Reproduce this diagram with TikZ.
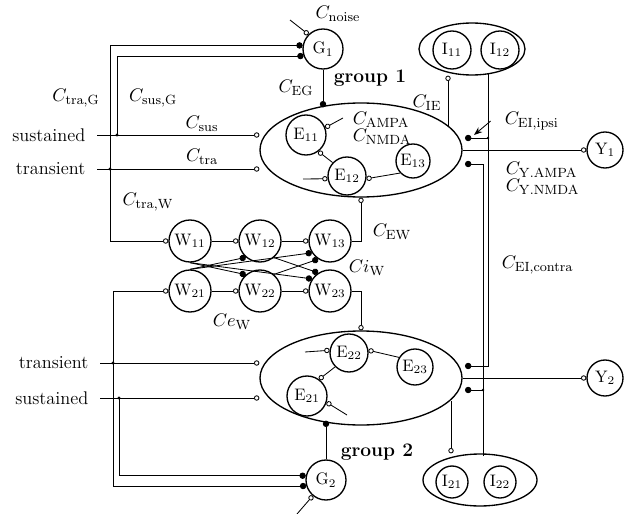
\documentclass[tikz,border=0pt]{standalone}
\usetikzlibrary{shapes.geometric, arrows.meta, positioning, calc}

\begin{document}
\begin{tikzpicture}[
    x=0.6pt, y=-0.6pt,
    every node/.style={font=\fontsize{11}{13}\selectfont},
    neuron/.style={circle, draw, line width=0.8pt, inner sep=0pt, minimum size=22.8pt, font=\fontsize{10}{12}\selectfont},
    group/.style={ellipse, draw, line width=0.8pt, inner sep=0pt, minimum width=121.2pt, minimum height=56.4pt},
    exc/.style={-{Circle[open, length=3.2pt]}, line width=0.5pt},
    inh/.style={-{Circle[length=3.8pt]}, line width=0.5pt},
    pointer/.style={-{Stealth[length=5pt]}, line width=0.5pt},
    inlabel/.style={anchor=east, inner sep=0pt, outer xsep=7pt},
    grouplabel/.style={font=\fontsize{11.5}{13}\selectfont\bfseries}
]
\useasboundingbox (0,0) rectangle (626,514);

% group 1
\node[group] (grp1) at (361,150) {};
\node[neuron, minimum size=24pt] (E11) at (306,135) {E$_{11}$};
\node[neuron] (E12) at (347,176) {E$_{12}$};
\node[neuron, minimum size=20.4pt] (E13) at (413,161) {E$_{13}$};
\node[neuron, minimum size=24pt] (G1) at (323,49) {G$_1$};
\node[group, minimum width=63.6pt, minimum height=31.2pt] (Iv1) at (472,49) {};
\node[neuron] (I11) at (452,50) {I$_{11}$};
\node[neuron] (I12) at (500,50) {I$_{12}$};
\node[neuron, minimum size=21.6pt] (Y1) at (605,150) {Y$_1$};

% group 2
\node[group] (grp2) at (361,378) {};
\node[neuron, minimum size=24pt] (E21) at (307,396) {E$_{21}$};
\node[neuron] (E22) at (349,353) {E$_{22}$};
\node[neuron, minimum size=21.6pt] (E23) at (415,367) {E$_{23}$};
\node[neuron, minimum size=24pt] (G2) at (326,480) {G$_2$};
\node[group, minimum width=68.4pt, minimum height=31.2pt] (Iv2) at (480,480) {};
\node[neuron, minimum size=19.2pt] (I21) at (452,482) {I$_{21}$};
\node[neuron, minimum size=19.2pt] (I22) at (500,482) {I$_{22}$};
\node[neuron, minimum size=21.6pt] (Y2) at (605,378) {Y$_2$};

% W cells
\foreach \i/\x in {1/190, 2/260, 3/330} {
  \node[neuron, minimum size=25.2pt] (W1\i) at (\x,241) {W$_{1\i}$};
  \node[neuron, minimum size=25.2pt] (W2\i) at (\x,291) {W$_{2\i}$};
}

% inputs
\node[inlabel] (sus1) at (97,135) {sustained};
\node[inlabel] (tra1) at (97,169) {transient};
\node[inlabel] (tra2) at (100,363) {transient};
\node[inlabel] (sus2) at (100,398) {sustained};

% labels
\node (cnoise) at (338,14) {$C_{\mathrm{noise}}$};
\node (ctraG) at (76,98) {$C_{\mathrm{tra,G}}$};
\node (csusG) at (153,98) {$C_{\mathrm{sus,G}}$};
\node (csus) at (202,124) {$C_{\mathrm{sus}}$};
\node (ctra) at (202,157) {$C_{\mathrm{tra}}$};
\node (cEG) at (296,88) {$C_{\mathrm{EG}}$};
\node[grouplabel] (grp1lab) at (370,78) {group 1};
\node (cIE) at (427,103) {$C_{\mathrm{IE}}$};
\node[anchor=west] (campa) at (347,120) {$C_{\mathrm{AMPA}}$};
\node[anchor=west] (cnmda) at (347,137) {$C_{\mathrm{NMDA}}$};
\node[anchor=west] (cipsi) at (499,121) {$C_{\mathrm{EI,ipsi}}$};
\node[anchor=west] (cyampa) at (500,170) {$C_{\mathrm{Y.AMPA}}$};
\node[anchor=west] (cynmda) at (500,187) {$C_{\mathrm{Y.NMDA}}$};
\node (ctraW) at (148,202) {$C_{\mathrm{tra,W}}$};
\node (cEW) at (392,232) {$C_{\mathrm{EW}}$};
\node (ciW) at (367,268) {$Ci_{\mathrm{W}}$};
\node (ceW) at (232,322) {$Ce_{\mathrm{W}}$};
\node[anchor=west] (ccontra) at (496,265) {$C_{\mathrm{EI,contra}}$};
\node[grouplabel] (grp2lab) at (377,452) {group 2};

% free ends and branch points
\coordinate (tra1j) at (110,169);
\coordinate (sus1j) at (117,135);
\coordinate (tra2j) at (113,363);
\coordinate (sus2j) at (119,398);
\coordinate (noise1) at (290,20);
\coordinate (noise2) at (297,514);
\coordinate (ampaIn) at (343,118);
\coordinate (e12in) at (303,179);
\coordinate (e22in) at (305,352);
\coordinate (e21out) at (347,415);
\coordinate (ie1) at (448,126);
\coordinate (ie2) at (451,401);
\coordinate (ciA) at (488,74);
\coordinate (ciB) at (483,456);
\coordinate (ei1a) at (465,138);
\coordinate (ei1b) at (465,164);
\coordinate (ei2a) at (465,366);
\coordinate (ei2b) at (465,390);
\coordinate (ipsiTip) at (474,135);

% sensory inputs
\draw[exc] (sus1.east) -- (sus1.east -| grp1.west);
\draw[exc] (tra1.east) -- (tra1.east -| grp1.west);
\draw[exc] (tra2.east) -- (tra2.east -| grp2.west);
\draw[exc] (sus2.east) -- (sus2.east -| grp2.west);
\draw[inh] (tra1j) |- (G1.170);
\draw[inh] (sus1j) |- (G1.200);
\draw[exc] (tra1j) |- (W11.west);
\draw[exc] (tra2j) |- (W21.west);
\draw[inh] (tra2j) |- (G2.197);
\draw[inh] (sus2j) |- (G2.168);
\foreach \j in {tra1j, sus1j, tra2j, sus2j}
  \fill (\j) circle (1.6);

% noise and G cells
\draw[exc] (noise1) -- (G1.135);
\draw[exc] (noise2) -- (G2.230);
\draw[inh, shorten >=-3pt] (G1.south) -- (G1.south |- grp1.north);
\draw[inh, shorten >=-3pt] (G2.north) -- (G2.north |- grp2.south);

% inside the groups
\draw[exc] (ampaIn) -- (E11.21);
\draw[exc] (E12.137) -- (E11.-53);
\draw[exc] (e12in) -- (E12.188);
\draw[exc] (E13.223) -- (E12.-8);
\draw[exc] (e22in) -- (E22.172);
\draw[exc] (E23.149) -- (E22.8);
\draw[exc] (E22.225) -- (E21.54);
\draw[exc] (e21out) -- (E21.-18);

% W network
\foreach \a/\b in {W11/W12, W12/W13, W21/W22, W22/W23}
  \draw[exc] (\a.east) -- (\b.west);
\foreach \a/\b in {W11.south/W22.131, W11.south/W23.146, W12.-50/W23.123,
                   W21.north/W12.229, W21.north/W13.213, W22.50/W13.237}
  \draw[inh] (\a) -- (\b);
\draw[exc] (W13.east) -| (grp1.south);
\draw[exc] (W23.east) -| (grp2.north);

% I cells
\draw[exc] (ie1) -- (ie1 |- Iv1.south);
\draw[exc] (ie2) -- (ie2 |- Iv2.north);
\draw[inh] (ciA) |- (ei2a);
\draw[inh] (ciA |- ei1a) -- (ei1a);
\draw[inh] (ciB) |- (ei1b);
\draw[inh] (ciB |- ei2b) -- (ei2b);
\fill (ciA |- ei1a) circle (1.4);
\fill (ciB |- ei2b) circle (1.4);
\draw[pointer] ([xshift=-5pt]cipsi.west) -- (ipsiTip);

% outputs
\draw[exc] (grp1.east) -- (Y1.west);
\draw[exc] (grp2.east) -- (Y2.west);
\end{tikzpicture}
\end{document}
